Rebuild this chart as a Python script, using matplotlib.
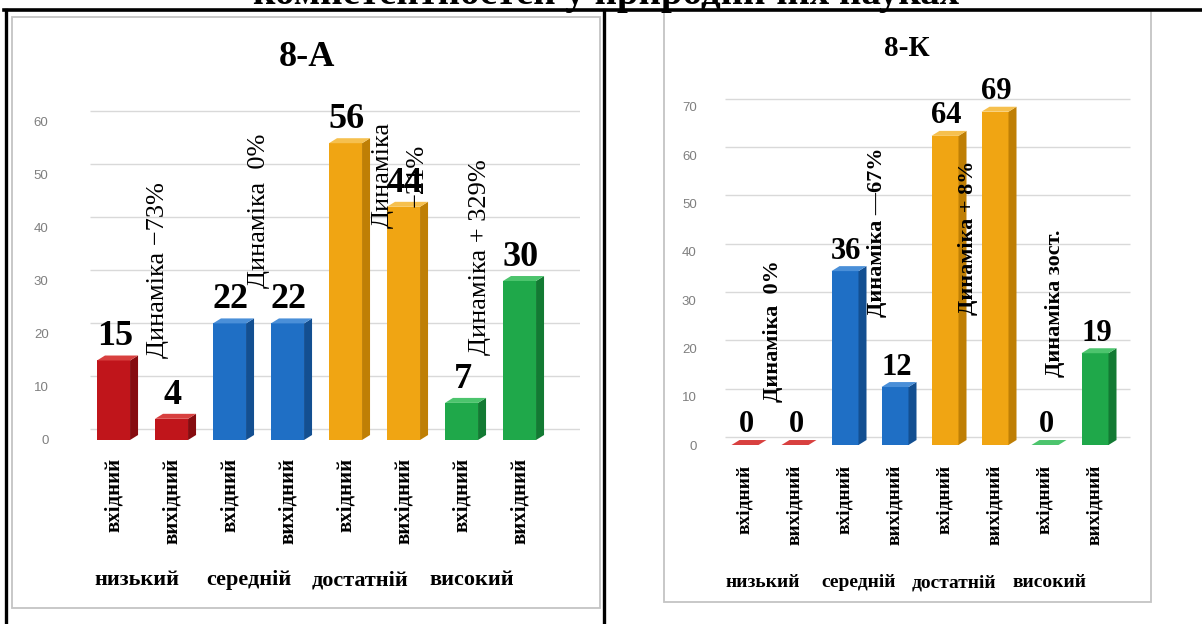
import matplotlib
matplotlib.use("Agg")
import matplotlib.pyplot as plt
from matplotlib.patches import Polygon, Rectangle
from matplotlib.lines import Line2D
from matplotlib.transforms import ScaledTranslation

plt.rcParams['font.family'] = ['Liberation Serif', 'DejaVu Serif']

# ---- data ----
page_title = 'компетентностей у природничих науках'
levels = ['низький', 'середній', 'достатній', 'високий']
stages = ['вхідний', 'вихідний']

title_8a = '8-А'
values_8a = [15, 4, 22, 22, 56, 44, 7, 30]
dyn_8a = ['Динаміка −73%', 'Динаміка  0%', 'Динаміка\n−21%', 'Динаміка + 329%']

title_8k = '8-К'
values_8k = [0, 0, 36, 12, 64, 69, 0, 19]
dyn_8k = ['Динаміка  0%', 'Динаміка —67%', 'Динаміка + 8%', 'Динаміка зост.']

# front / side / top face colours for each level
level_colors = [
    ('#C0151B', '#860C10', '#D8403F'),
    ('#1F6FC5', '#134F91', '#4A8FD8'),
    ('#F0A513', '#BF7F05', '#F6C04E'),
    ('#1FA84A', '#137A33', '#4CC46D'),
]

W, H = 1202, 624
fig = plt.figure(figsize=(W / 100, H / 100), dpi=100)
fig.patch.set_facecolor('white')


def px_axes(x0, y0, x1, y1):
    return fig.add_axes([x0 / W, 1 - y1 / H, (x1 - x0) / W, (y1 - y0) / H])


def fig_line(x0, y0, x1, y1, lw=2.2, color='black'):
    fig.add_artist(Line2D([x0 / W, x1 / W], [1 - y0 / H, 1 - y1 / H],
                          transform=fig.transFigure, color=color, lw=lw))


def fig_box(x0, y0, x1, y1):
    fig.add_artist(Rectangle((x0 / W, 1 - y1 / H), (x1 - x0) / W, (y1 - y0) / H,
                             transform=fig.transFigure, fill=False,
                             edgecolor='#c4c4c4', lw=1.3))


def draw_panel(ax, values, title, dyn, cfg):
    w, dx, dy = cfg['w'], cfg['dx'], cfg['dy']
    ax.set_xlim(*cfg['xlim'])
    ax.set_ylim(*cfg['ylim'])
    for s in ax.spines.values():
        s.set_visible(False)

    # back-wall gridlines (shifted up like the 3d chart)
    grid_tr = ax.get_yaxis_transform() + ScaledTranslation(0, cfg['grid_up'] / 100, fig.dpi_scale_trans)
    ax.hlines(cfg['yticks'], cfg['grid_x'][0], cfg['grid_x'][1], transform=grid_tr,
              color='#d9d9d9', lw=1.0, zorder=1)

    for i, v in enumerate(values):
        front, side, top = level_colors[i // 2]
        ax.bar(i, v, width=w, color=front, zorder=3)
        ax.add_patch(Polygon([(i + w / 2, 0), (i + w / 2 + dx, dy), (i + w / 2 + dx, v + dy), (i + w / 2, v)],
                             closed=True, facecolor=side, edgecolor='none', zorder=3))
        ax.add_patch(Polygon([(i - w / 2, v), (i + w / 2, v), (i + w / 2 + dx, v + dy), (i - w / 2 + dx, v + dy)],
                             closed=True, facecolor=top, edgecolor='none', zorder=3))
        ax.annotate(str(v), (i, v), xytext=(1, cfg['lab_off']), textcoords='offset points',
                    ha='center', va='baseline', fontsize=cfg['lab_size'], fontweight='bold',
                    zorder=5, annotation_clip=False)

    for (x, y), txt in zip(cfg['dyn_pos'], dyn):
        ax.text(x, y, txt, rotation=90, ha='center', va='center', multialignment='center',
                fontsize=cfg['dyn_size'], fontweight=cfg['dyn_weight'], zorder=6,
                linespacing=cfg['dyn_ls'])

    ax.set_yticks(cfg['yticks'])
    ax.tick_params(axis='y', length=0, pad=cfg['ypad'], labelcolor='#7f7f7f', labelsize=9.5)
    for lab in ax.get_yticklabels():
        lab.set_fontfamily('Liberation Sans')

    ax.set_xticks(range(len(values)))
    ax.set_xticklabels(stages * len(levels), rotation=90, fontweight='bold', fontsize=cfg['tick_size'])
    ax.tick_params(axis='x', length=0, pad=cfg['xpad'])

    for g, name in enumerate(levels):
        gx = cfg['grp_a'] + cfg['grp_b'] * g
        ax.text(gx, cfg['grp_y'], name, transform=ax.get_xaxis_transform(), ha='center', va='center',
                fontsize=cfg['grp_size'], fontweight='bold')

    ax.text(cfg['title_xy'][0], cfg['title_xy'][1], title, transform=ax.transAxes, ha='center', va='center',
            fontsize=cfg['title_size'], fontweight='bold')
    ax.patch.set_alpha(0)


# ---- page frame: table cell borders and chart boxes ----
fig_line(4, 10, W, 10, lw=2.6)
fig_line(6, 10, 6, H, lw=2.4)
fig_line(604, 10, 604, H, lw=2.4)
fig_box(12, 17, 600, 608)
fig_box(664, 10, 1151, 602)

# heading above the table, only its lower edge is inside the picture
fig.text(606 / W, 1 - 4 / H, page_title, ha='center', va='baseline', fontsize=28, fontweight='bold')

# ---- left: 8-А ----
ax1 = px_axes(75, 100, 580, 440)
cfg_a = dict(w=0.57, dx=0.138, dy=0.94, xlim=(-0.664, 8.043), ylim=(0, 64.15),
             yticks=list(range(0, 61, 10)), grid_up=11, grid_x=(0.03, 1.0),
             lab_off=11, lab_size=26, dyn_size=19, dyn_weight='normal', dyn_ls=1.7,
             dyn_pos=[(0.76, 32.1), (2.51, 43.2), (4.93, 50.0), (6.32, 34.5)],
             ypad=19, xpad=13, tick_size=15,
             grp_a=0.405, grp_b=1.925, grp_y=-0.412, grp_size=16,
             title_xy=((307 - 75) / 505, (440 - 57) / 340), title_size=26)
draw_panel(ax1, values_8a, title_8a, dyn_8a, cfg_a)

# ---- right: 8-К ----
ax2 = px_axes(705, 95, 1135, 445)
cfg_k = dict(w=0.54, dx=0.16, dy=1.03, xlim=(-0.8, 7.8), ylim=(0, 72.46),
             yticks=list(range(0, 71, 10)), grid_up=8, grid_x=(0.047, 0.988),
             lab_off=9, lab_size=22, dyn_size=16, dyn_weight='bold', dyn_ls=1.0,
             dyn_pos=[(0.56, 23.6), (2.64, 44.0), (4.46, 42.9), (6.2, 29.4)],
             ypad=6, xpad=14, tick_size=14,
             grp_a=0.36, grp_b=1.907, grp_y=-0.394, grp_size=14,
             title_xy=((907 - 705) / 430, (445 - 49) / 350), title_size=21)
draw_panel(ax2, values_8k, title_8k, dyn_8k, cfg_k)

fig.savefig('out.png', dpi=100)
